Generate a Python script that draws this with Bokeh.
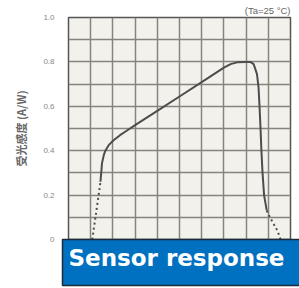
from bokeh.plotting import figure
from bokeh.models import Title, FixedTicker
from bokeh.embed import file_html
from bokeh.resources import INLINE

# ---- data ----
wl_dot_left = [307, 325, 344]
resp_dot_left = [0.0, 0.125, 0.26]

wl_solid = [344, 351, 359, 366, 381, 403, 432, 462, 500, 600, 700, 800, 900,
            930, 960, 1000, 1019, 1034, 1049, 1056, 1060, 1065, 1069, 1074, 1081, 1093]
resp_solid = [0.26, 0.344, 0.38, 0.40, 0.425, 0.447, 0.47, 0.49, 0.515, 0.579, 0.644,
              0.709, 0.774, 0.79, 0.798, 0.80, 0.80, 0.79, 0.745, 0.685, 0.61, 0.50,
              0.40, 0.30, 0.20, 0.13]

wl_dot_right = [1093, 1107, 1141, 1155]
resp_dot_right = [0.13, 0.10, 0.04, 0.0]

y_ticks = [0, 0.2, 0.4, 0.6, 0.8, 1.0]
y_tick_labels = ["0", "0.2", "0.4", "0.6", "0.8", "1.0"]
x_grid = [200, 300, 400, 500, 600, 700, 800, 900, 1000, 1100, 1200]
y_grid = [0, 0.1, 0.2, 0.3, 0.4, 0.5, 0.6, 0.7, 0.8, 0.9, 1.0]

y_label = "受光感度 (A/W)"
note = "(Ta=25 °C)"
banner = "Sensor response"

p = figure(width=299, height=288, x_range=(200, 1200), y_range=(0, 1.0),
           output_backend="svg", toolbar_location=None,
           min_border_left=68, min_border_right=9, min_border_top=17,
           min_border_bottom=49)

p.background_fill_color = "#F2F1EB"
p.border_fill_color = "white"
p.outline_line_color = "#555555"
p.outline_line_width = 1.5

p.xaxis.visible = False
p.xgrid.ticker = FixedTicker(ticks=x_grid)
p.ygrid.ticker = FixedTicker(ticks=y_grid)
for g in (p.xgrid, p.ygrid):
    g.grid_line_color = "#85857e"
    g.grid_line_width = 1.5

ax = p.yaxis[0]
ax.ticker = FixedTicker(ticks=y_ticks)
ax.major_label_overrides = dict(zip(y_ticks, y_tick_labels))
ax.axis_line_color = None
ax.major_tick_line_color = None
ax.minor_tick_line_color = None
ax.major_label_standoff = 8
ax.major_label_text_font = "Liberation Sans"
ax.major_label_text_font_size = "8px"
ax.major_label_text_color = "#888888"
ax.axis_label = y_label
ax.axis_label_text_font = "Noto Sans CJK JP"
ax.axis_label_text_font_size = "11px"
ax.axis_label_text_font_style = "bold"
ax.axis_label_text_color = "#666666"
ax.axis_label_standoff = 11

p.line(wl_dot_left, resp_dot_left, line_color="#4d4d4d", line_width=2, line_dash="2 3")
p.line(wl_solid, resp_solid, line_color="#4d4d4d", line_width=2)
p.line(wl_dot_right, resp_dot_right, line_color="#4d4d4d", line_width=2, line_dash="2 3")

p.add_layout(Title(text=note, align="right", vertical_align="bottom",
                   text_font="Liberation Sans", text_font_size="9.5px",
                   text_font_style="normal", text_color="#666666",
                   standoff=4, offset=0), "above")

p.add_layout(Title(text=banner, align="left", vertical_align="top",
                   text_font="DejaVu Sans", text_font_style="bold",
                   text_font_size="23px", text_color="white",
                   background_fill_color="#0070C0",
                   border_line_color="#1b2b3b", border_line_width=1.5,
                   padding=dict(left=6, right=30, top=5, bottom=15),
                   standoff=0, offset=-6), "below")

open("out.html", "w").write(file_html(p, INLINE))
